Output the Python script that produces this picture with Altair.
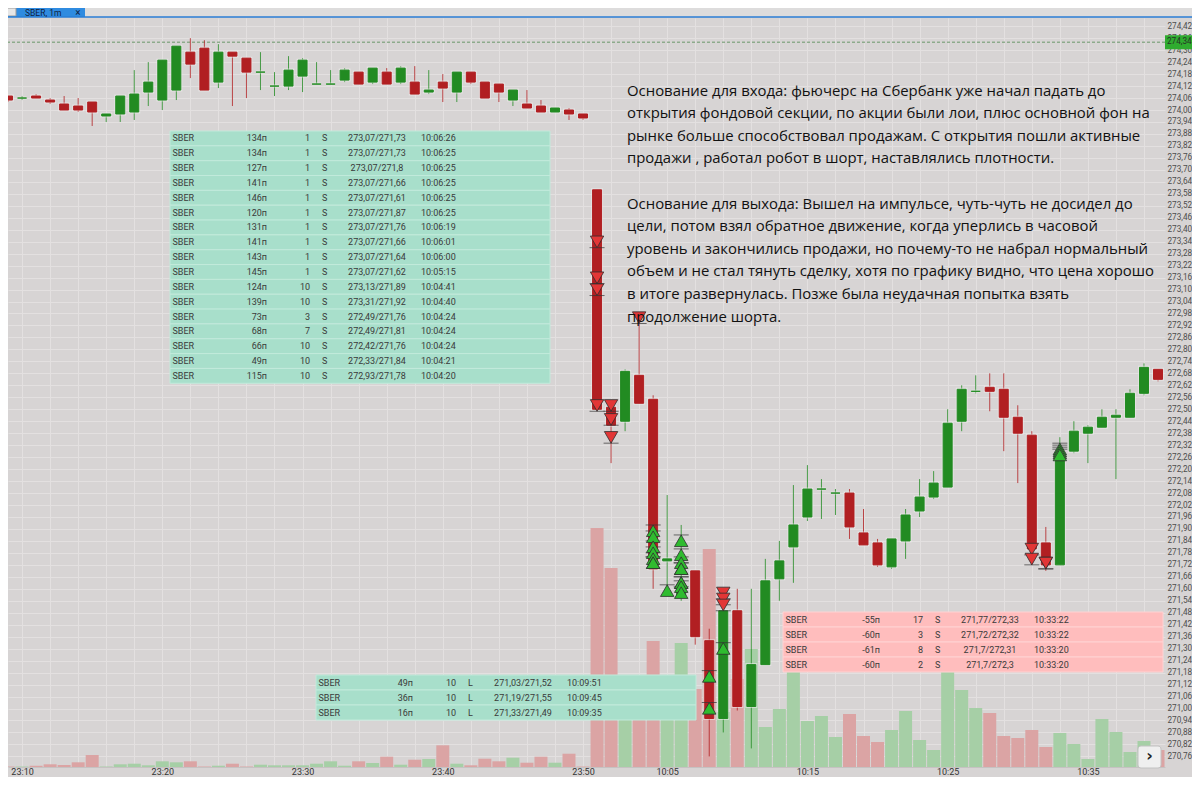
import altair as alt
import pandas as pd

# ---------------- data: SBER 1-minute candles ----------------
opens = [
    274.07, 274.06, 274.07, 274.05, 274.03, 274.02, 274.04, 273.97, 273.98, 273.99,
    274.09, 274.05, 274.10, 274.29, 274.31, 274.14, 274.29, 274.26, 274.19, 274.12,
    274.12, 274.17, 274.13, 274.13, 274.15, 274.19, 274.14, 274.19, 274.14, 274.14,
    274.09, 274.14, 274.09, 274.19, 274.14, 274.13, 274.05, 274.03, 274.02, 273.99,
    274.00, 273.98,
    273.60, 272.51, 272.44, 272.67, 272.55, 271.74, 271.56, 271.69, 271.34, 270.95,
    271.49, 271.01, 271.22, 271.65, 271.81, 271.96, 272.10, 272.08, 272.08, 271.88,
    271.83, 271.71, 271.84, 271.99, 272.06, 272.11, 272.44, 272.59, 272.61, 272.60,
    272.46, 272.37, 271.83, 271.72, 272.29, 272.38, 272.41, 272.46, 272.46, 272.58,
    272.70]
highs = [
    274.07, 274.07, 274.08, 274.06, 274.07, 274.06, 274.04, 273.98, 274.07, 274.20,
    274.24, 274.25, 274.32, 274.36, 274.35, 274.33, 274.29, 274.26, 274.29, 274.19,
    274.27, 274.26, 274.24, 274.20, 274.21, 274.19, 274.21, 274.21, 274.22, 274.22,
    274.20, 274.18, 274.19, 274.19, 274.14, 274.13, 274.10, 274.10, 274.05, 274.01,
    274.01, 273.98,
    273.60, 272.53, 272.70, 272.93, 272.57, 272.07, 271.92, 271.69, 271.40, 271.55,
    271.60, 271.60, 271.75, 271.84, 272.12, 272.22, 272.15, 272.10, 272.10, 272.00,
    271.85, 271.85, 272.00, 272.15, 272.19, 272.50, 272.62, 272.67, 272.68, 272.68,
    272.52, 272.39, 271.91, 272.36, 272.44, 272.42, 272.50, 272.50, 272.60, 272.73,
    272.70]
lows = [
    274.04, 274.05, 274.06, 274.03, 274.00, 273.99, 273.92, 273.94, 273.94, 273.95,
    274.02, 274.00, 274.05, 274.16, 274.10, 274.11, 274.02, 274.06, 274.10, 274.07,
    274.10, 274.09, 274.13, 274.13, 274.14, 274.13, 274.13, 274.13, 274.13, 274.08,
    274.08, 274.04, 274.04, 274.13, 274.06, 274.04, 274.02, 274.01, 273.99, 273.99,
    273.95, 273.95,
    272.50, 272.23, 272.39, 272.53, 271.60, 271.60, 271.54, 271.32, 270.76, 270.88,
    270.99, 270.80, 271.22, 271.54, 271.63, 271.94, 271.95, 271.97, 271.85, 271.82,
    271.71, 271.70, 271.75, 271.96, 272.05, 272.11, 272.39, 272.58, 272.49, 272.29,
    272.13, 271.72, 271.69, 271.72, 272.28, 272.23, 272.41, 272.15, 272.46, 272.57,
    272.64]
closes = [
    274.05, 274.06, 274.06, 274.04, 274.00, 274.00, 273.99, 273.98, 274.07, 274.08,
    274.14, 274.25, 274.32, 274.23, 274.10, 274.29, 274.27, 274.19, 274.19, 274.12,
    274.20, 274.25, 274.13, 274.13, 274.20, 274.13, 274.21, 274.13, 274.21, 274.08,
    274.10, 274.11, 274.19, 274.14, 274.06, 274.09, 274.10, 274.01, 273.99, 274.01,
    273.98, 273.96,
    272.50, 272.42, 272.69, 272.53, 271.70, 271.75, 271.60, 271.36, 270.95, 271.49,
    271.01, 271.22, 271.64, 271.74, 271.92, 272.10, 272.10, 272.08, 271.91, 271.82,
    271.72, 271.85, 271.97, 272.06, 272.13, 272.43, 272.60, 272.59, 272.59, 272.46,
    272.38, 271.80, 271.72, 272.27, 272.39, 272.41, 272.46, 272.47, 272.58, 272.71,
    272.65]
volumes = [
    0.5, 0.5, 1.3, 2.7, 2.0, 4.7, 12.0, 0.5, 2.7, 3.3,
    1.7, 5.7, 4.7, 5.7, 0.5, 1.3, 3.3, 0.5, 2.3, 1.7,
    1.7, 1.7, 3.3, 5.7, 1.3, 5.7, 4.0, 10.3, 2.3, 7.3,
    8.0, 21.7, 3.3, 1.7, 8.3, 5.7, 9.3, 4.3, 10.3, 4.3,
    13.3, 0.5,
    239, 199, 60, 55, 126, 60, 124, 78, 218, 55,
    88, 118, 40, 58, 97, 46, 51, 30, 53, 31,
    25, 37, 56, 27, 17, 96, 77, 59, 54, 31,
    29, 37, 20, 34, 23, 8, 48, 35, 15, 26,
    17]

x_label_index = [1, 11, 21, 31, 41, 47, 57, 67, 77]
x_label_text = ["23:10", "23:20", "23:30", "23:40", "23:50", "10:05", "10:15", "10:25", "10:35"]
y_tick_values = [round(270.76 + 0.06 * k, 2) for k in range(62)]
last_price = 274.34

# trade markers: candle index and price
sell_idx = [42, 42, 42, 42, 43, 43, 43, 45, 51, 51, 51, 73, 73, 74, 74]
sell_px = [273.31, 273.13, 273.07, 272.49, 272.49, 272.42, 272.33, 272.93,
           271.55, 271.52, 271.49, 271.77, 271.72, 271.70, 271.70]
buy_idx = [46, 46, 46, 46, 46, 46, 46, 47, 48, 48, 48, 48, 48, 48, 48, 48, 48,
           50, 50, 51, 75, 75, 75, 75]
buy_px = [271.92, 271.89, 271.84, 271.81, 271.78, 271.76, 271.76, 271.62,
          271.87, 271.80, 271.76, 271.73, 271.73, 271.66, 271.66, 271.64, 271.61,
          271.19, 271.03, 271.33, 272.33, 272.32, 272.31, 272.30]

# trade tables
t1_pnl = ["134п", "134п", "127п", "141п", "146п", "120п", "131п", "141п", "143п",
          "145п", "124п", "139п", "73п", "68п", "66п", "49п", "115п"]
t1_qty = [1, 1, 1, 1, 1, 1, 1, 1, 1, 1, 10, 10, 3, 7, 10, 10, 10]
t1_side = ["S"] * 17
t1_prices = ["273,07/271,73", "273,07/271,73", "273,07/271,8", "273,07/271,66",
             "273,07/271,61", "273,07/271,87", "273,07/271,76", "273,07/271,66",
             "273,07/271,64", "273,07/271,62", "273,13/271,89", "273,31/271,92",
             "272,49/271,76", "272,49/271,81", "272,42/271,76", "272,33/271,84",
             "272,93/271,78"]
t1_time = ["10:06:26", "10:06:25", "10:06:25", "10:06:25", "10:06:25", "10:06:25",
           "10:06:19", "10:06:01", "10:06:00", "10:05:15", "10:04:41", "10:04:40",
           "10:04:24", "10:04:24", "10:04:24", "10:04:21", "10:04:20"]

t2_pnl = ["49п", "36п", "16п"]
t2_qty = [10, 10, 10]
t2_side = ["L", "L", "L"]
t2_prices = ["271,03/271,52", "271,19/271,55", "271,33/271,49"]
t2_time = ["10:09:51", "10:09:45", "10:09:35"]

t3_pnl = ["-55п", "-60п", "-61п", "-60п"]
t3_qty = [17, 3, 8, 2]
t3_side = ["S", "S", "S", "S"]
t3_prices = ["271,77/272,33", "271,72/272,32", "271,7/272,31", "271,7/272,3"]
t3_time = ["10:33:22", "10:33:22", "10:33:20", "10:33:20"]

annotation_lines = [
    "Основание для входа: фьючерс на Сбербанк уже начал падать до",
    "открытия фондовой секции, по акции были лои, плюс основной фон на",
    "рынке больше способствовал продажам. С открытия пошли активные",
    "продажи , работал робот в шорт, наставлялись плотности.",
    "",
    "Основание для выхода: Вышел на импульсе, чуть-чуть не досидел до",
    "цели, потом взял обратное движение, когда уперлись в часовой",
    "уровень и закончились продажи, но почему-то не набрал нормальный",
    "объем и не стал тянуть сделку, хотя по графику видно, что цена хорошо",
    "в итоге развернулась. Позже была неудачная попытка взять",
    "продолжение шорта.",
]

# ---------------- layout / style ----------------
BG = "#d7d4d4"
GRID = "#e3e0e0"
UP = "#228b22"
DN = "#b11f22"
UP_VOL = "#a6cfa6"
DN_VOL = "#dba4a4"
W, H = 1157, 749
X_DOMAIN = [0.3535, 82.1414]
Y_DOMAIN = [270.7068, 274.4612]

candles = pd.DataFrame({"i": list(range(len(opens))), "open": opens, "high": highs,
                        "low": lows, "close": closes, "vol": volumes})
is_up = "datum.close >= datum.open"

x_scale = alt.Scale(domain=X_DOMAIN, nice=False, zero=False)
y_scale = alt.Scale(domain=Y_DOMAIN, nice=False, zero=False)

label_expr = "''"
for idx, txt in zip(reversed(x_label_index), reversed(x_label_text)):
    label_expr = f"datum.value == {idx} ? '{txt}' : ({label_expr})"

x_axis = alt.Axis(values=list(range(1, 83, 2)), labelExpr=label_expr, grid=True,
                  gridColor=GRID, gridWidth=1, ticks=False, tickSize=0, domain=True,
                  domainColor="#c6c2c2", labelFont="Roboto", labelFontSize=9,
                  labelColor="#333333", labelPadding=7.5, labelBaseline="alphabetic",
                  labelOverlap=False, labelFlush=False, title=None)
y_axis = alt.Axis(orient="right", values=y_tick_values,
                  labelExpr="replace(format(datum.value, '.2f'), '.', ',')",
                  grid=True, gridColor=GRID, gridWidth=1, ticks=False, tickSize=0,
                  domain=False, labelFont="Roboto", labelFontSize=8.2,
                  labelColor="#4d4d4d", labelPadding=2, labelOverlap=False,
                  labelFlush=False, labelBaseline="middle", title=None)

X = alt.X("i:Q", scale=x_scale, axis=x_axis)


def Yp(field):
    return alt.Y(field, scale=y_scale, axis=y_axis)


col_cond = alt.condition(is_up, alt.value(UP), alt.value(DN))
base = alt.Chart(candles)

last_df = pd.DataFrame({"p": [last_price], "label": [f"{last_price:.2f}".replace(".", ",")]})
last_line = alt.Chart(last_df).mark_rule(color="#6a976a", strokeDash=[3, 2], strokeWidth=1).encode(
    y=Yp("p:Q"))

wicks = base.mark_rule(strokeWidth=1, opacity=0.8, clip=True).encode(
    x=X, y=Yp("low:Q"), y2="high:Q", color=col_cond)
halo = base.mark_bar(size=9, fillOpacity=0, stroke="#efecec", strokeWidth=3,
                     strokeOpacity=0.55, clip=True).encode(x=X, y=Yp("open:Q"), y2="close:Q")
bodies = base.mark_bar(size=9, strokeWidth=1, clip=True).encode(
    x=X, y=Yp("open:Q"), y2="close:Q", color=col_cond, stroke=col_cond)

sells = pd.DataFrame({"i": sell_idx, "px": sell_px})
buys = pd.DataFrame({"i": buy_idx, "px": buy_px})
sell_line = alt.Chart(sells).mark_tick(orient="horizontal", size=15, thickness=1,
                                       color="#333333").encode(x=X, y=Yp("px:Q"))
buy_line = alt.Chart(buys).mark_tick(orient="horizontal", size=15, thickness=1,
                                     color="#333333").encode(x=X, y=Yp("px:Q"))
sell_tri = alt.Chart(sells).mark_point(shape="triangle-down", filled=True, size=180,
                                       fill="#e23636", stroke="#2e2e2e", strokeWidth=0.8,
                                       opacity=1, yOffset=-5.8).encode(x=X, y=Yp("px:Q"))
buy_tri = alt.Chart(buys).mark_point(shape="triangle-up", filled=True, size=180,
                                     fill="#2fbb2f", stroke="#2e2e2e", strokeWidth=0.8,
                                     opacity=1, yOffset=5.8).encode(x=X, y=Yp("px:Q"))

price_box = alt.Chart(last_df).mark_rule(strokeWidth=14, color="#2fab2f").encode(
    x=alt.value(W), x2=alt.value(W + 33), y=Yp("p:Q"))
price_txt = alt.Chart(last_df).mark_text(align="left", baseline="middle", font="Roboto",
                                         fontSize=8.2, color="#263326").encode(
    x=alt.value(W + 2), y=Yp("p:Q"), text="label:N")

price = alt.layer(last_line, wicks, halo, bodies, sell_line, buy_line, sell_tri, buy_tri,
                  price_box, price_txt)

vol = alt.Chart(candles).mark_bar(size=13, clip=True).encode(
    x=alt.X("i:Q", scale=x_scale, axis=None),
    y=alt.Y("vol:Q", scale=alt.Scale(domain=[0, H], nice=False), axis=None),
    color=alt.condition(is_up, alt.value(UP_VOL), alt.value(DN_VOL)))

TABLE_W = 380
COLS = [("sym", 2.5, "left"), ("pnl", 97, "right"), ("qty", 140, "right"),
        ("side", 152, "left"), ("prices", 207, "center"), ("time", 251, "left")]


def make_table(pnl, qty, side, prices, times, left, top, row_h, fill, sep):
    n = len(pnl)
    df = pd.DataFrame({"sym": ["SBER"] * n, "pnl": pnl, "qty": [str(q) for q in qty],
                       "side": side, "prices": prices, "time": times,
                       "r0": list(range(n))})
    df["r1"] = df["r0"] + 1
    df["rm"] = df["r0"] + 0.5
    ys = alt.Scale(domain=[0, n], range=[top, top + n * row_h], nice=False, zero=False)
    tb = alt.Chart(df)
    rect = tb.mark_rect(fill=fill, stroke=sep, strokeWidth=1).encode(
        x=alt.value(left), x2=alt.value(left + TABLE_W),
        y=alt.Y("r0:Q", scale=ys, axis=None), y2="r1:Q")
    texts = [tb.mark_text(align=a, baseline="middle", font="Roboto", fontSize=9,
                          color="#3a3a3a").encode(
        x=alt.value(left + dx), y=alt.Y("rm:Q", scale=ys, axis=None), text=f"{f}:N")
        for f, dx, a in COLS]
    return alt.layer(rect, *texts)


t1 = make_table(t1_pnl, t1_qty, t1_side, t1_prices, t1_time, 162, 113, 14.84,
                "#a8dfcb", "#c2eadb")
t2 = make_table(t2_pnl, t2_qty, t2_side, t2_prices, t2_time, 308, 657, 15,
                "#a8dfcb", "#c2eadb")
t3 = make_table(t3_pnl, t3_qty, t3_side, t3_prices, t3_time, 775, 594, 15,
                "#ffbdbd", "#ffd3d3")

ann_df = pd.DataFrame({"line": annotation_lines, "k": list(range(len(annotation_lines)))})
ann = alt.Chart(ann_df).mark_text(align="left", baseline="alphabetic", font="Open Sans",
                                  fontSize=14.9, color="#111111").encode(
    x=alt.value(619),
    y=alt.Y("k:Q", scale=alt.Scale(domain=[0, 10], range=[77.5, 77.5 + 10 * 22.6],
                                   nice=False, zero=False), axis=None),
    text="line:N")

dummy = pd.DataFrame({"a": [0]})
d = alt.Chart(dummy)
top_strip = d.mark_rect(fill="#dddcdc").encode(
    x=alt.value(0), x2=alt.value(1184), y=alt.value(-10), y2=alt.value(-1))
tab = d.mark_rect(fill="#2f8be0").encode(
    x=alt.value(0), x2=alt.value(77), y=alt.value(-10), y2=alt.value(-1))
icon = d.mark_rect(fill="#e6e6e6", stroke="#9a9a9a", strokeWidth=1).encode(
    x=alt.value(-4), x2=alt.value(8), y=alt.value(-10), y2=alt.value(-2))
tab_line = d.mark_rule(color="#2a7ed6", strokeWidth=1.5).encode(
    x=alt.value(0), x2=alt.value(1184), y=alt.value(-1))
tab_txt = d.mark_text(text="SBER, 1m", align="left", baseline="middle", font="Roboto",
                      fontSize=8.5, color="#10223f").encode(x=alt.value(17), y=alt.value(-5.5))
tab_x = d.mark_text(text="×", align="center", baseline="middle", font="Roboto",
                    fontSize=10, color="#10223f").encode(x=alt.value(70), y=alt.value(-5.5))
btn = d.mark_rect(fill="#efefef", stroke="#c2c2c2", strokeWidth=1, cornerRadius=3).encode(
    x=alt.value(1130), x2=alt.value(1153), y=alt.value(728), y2=alt.value(750))
btn_txt = d.mark_text(text="›", align="center", baseline="middle", font="DejaVu Sans",
                      fontSize=16, fontWeight="bold", color="#222222").encode(
    x=alt.value(1141.5), y=alt.value(738))
deco = alt.layer(top_strip, tab, icon, tab_line, tab_txt, tab_x, btn, btn_txt)

chart = alt.layer(vol, price, t1, t2, t3, ann, deco).resolve_scale(
    x="independent", y="independent"
).properties(
    width=W, height=H,
    padding={"left": 0, "top": 10, "right": 27, "bottom": 10},
    autosize=alt.AutoSizeParams(type="none"),
    background=BG,
).configure_view(fill=BG, stroke=None)

chart.save("out.html", embed_options={"renderer": "svg", "actions": False})
